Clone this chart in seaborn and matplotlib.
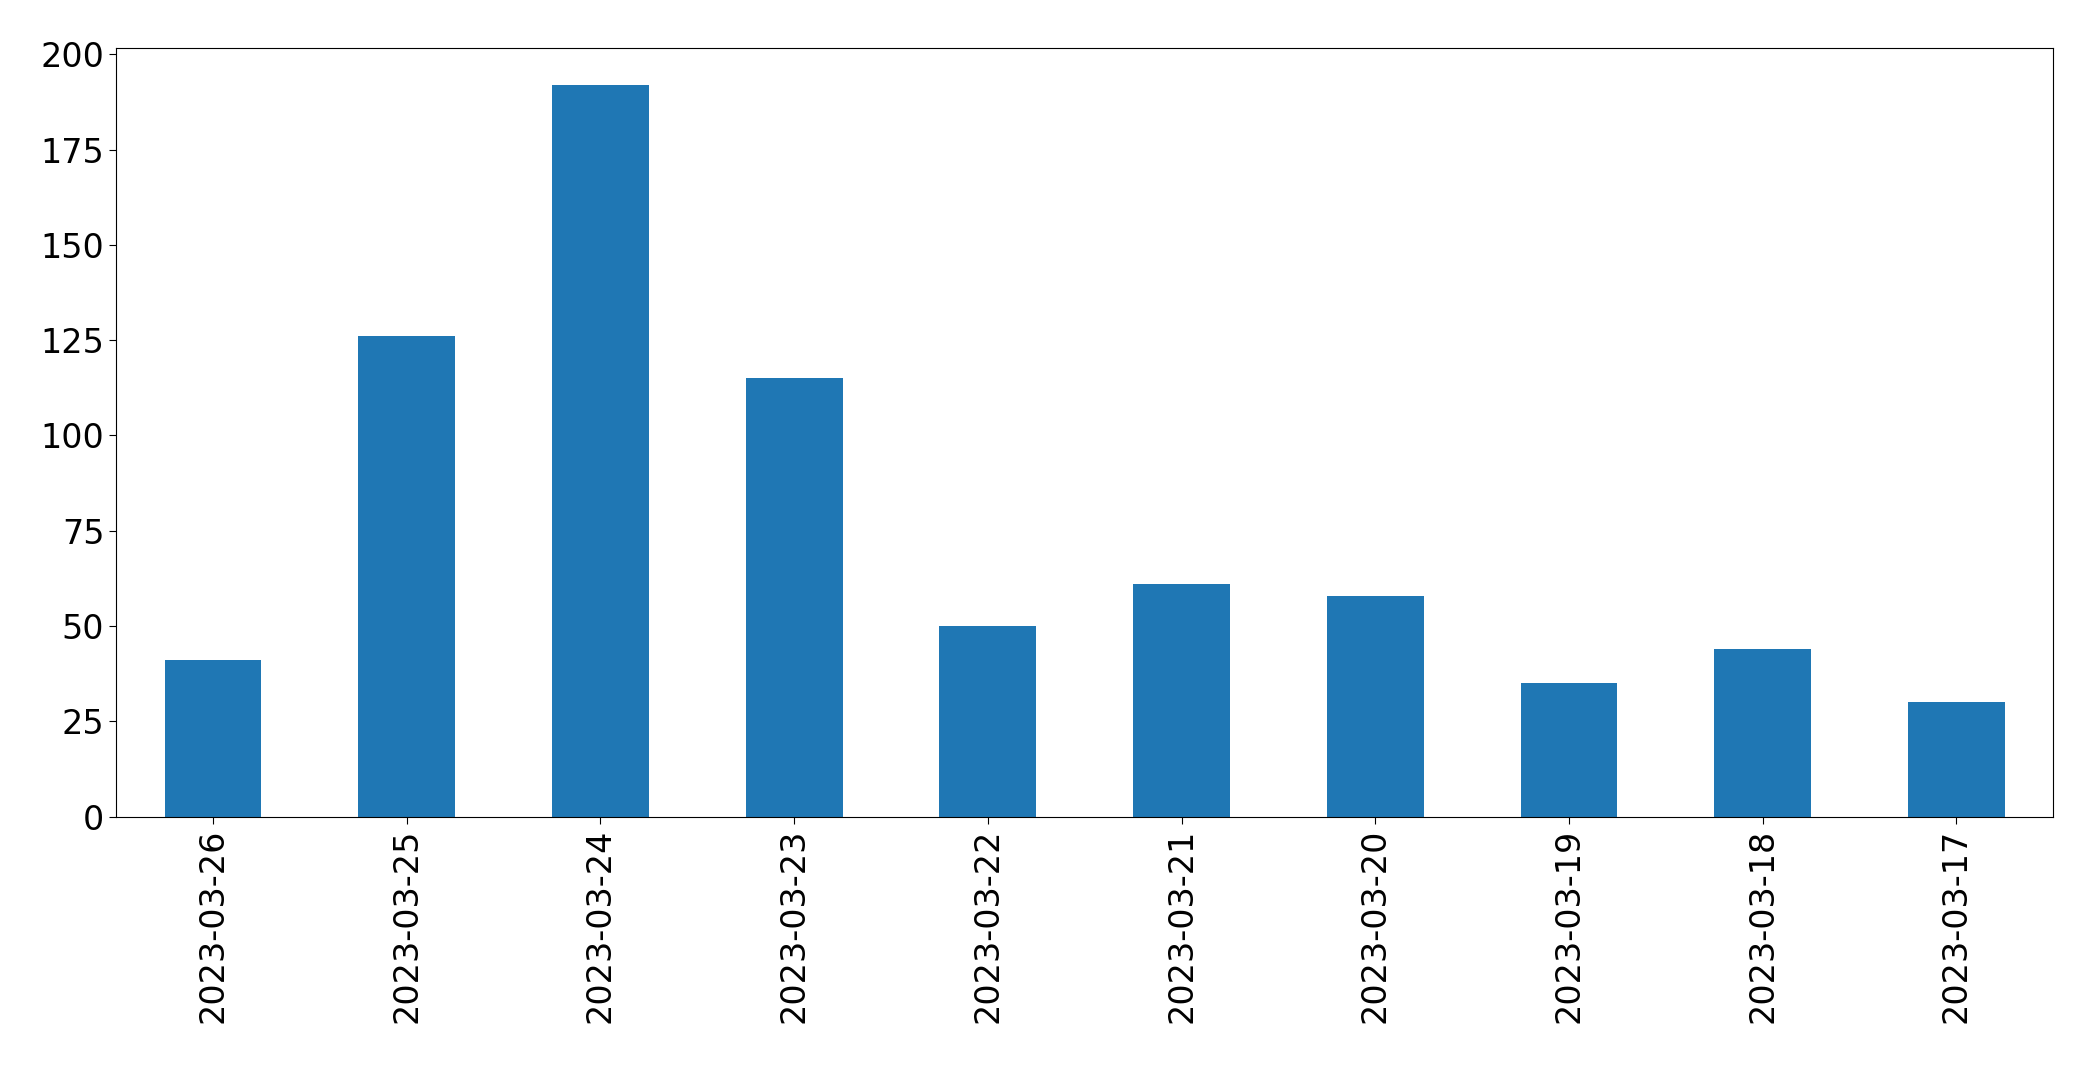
import matplotlib
matplotlib.use("Agg")
import matplotlib.pyplot as plt
import seaborn as sns
import pandas as pd

# daily counts, newest first
dates = ["2023-03-26", "2023-03-25", "2023-03-24", "2023-03-23", "2023-03-22",
         "2023-03-21", "2023-03-20", "2023-03-19", "2023-03-18", "2023-03-17"]
counts = [41, 126, 192, 115, 50, 61, 58, 35, 44, 30]

df = pd.DataFrame({"date": dates, "count": counts})

fig = plt.figure(figsize=(20.93, 10.69), dpi=100)
ax = fig.add_axes([0.0555, 0.236, 0.9255, 0.719])

sns.barplot(data=df, x="date", y="count", order=dates, color="#1f77b4",
            saturation=1, width=0.5, ax=ax)

ax.set_xlim(-0.5, len(dates) - 0.5)
ax.set_ylim(0, max(counts) * 1.05)
ax.set_xlabel("")
ax.set_ylabel("")
ax.tick_params(axis="both", labelsize=24, length=5)
plt.setp(ax.get_xticklabels(), rotation=90)

fig.savefig("out.png", dpi=100)
